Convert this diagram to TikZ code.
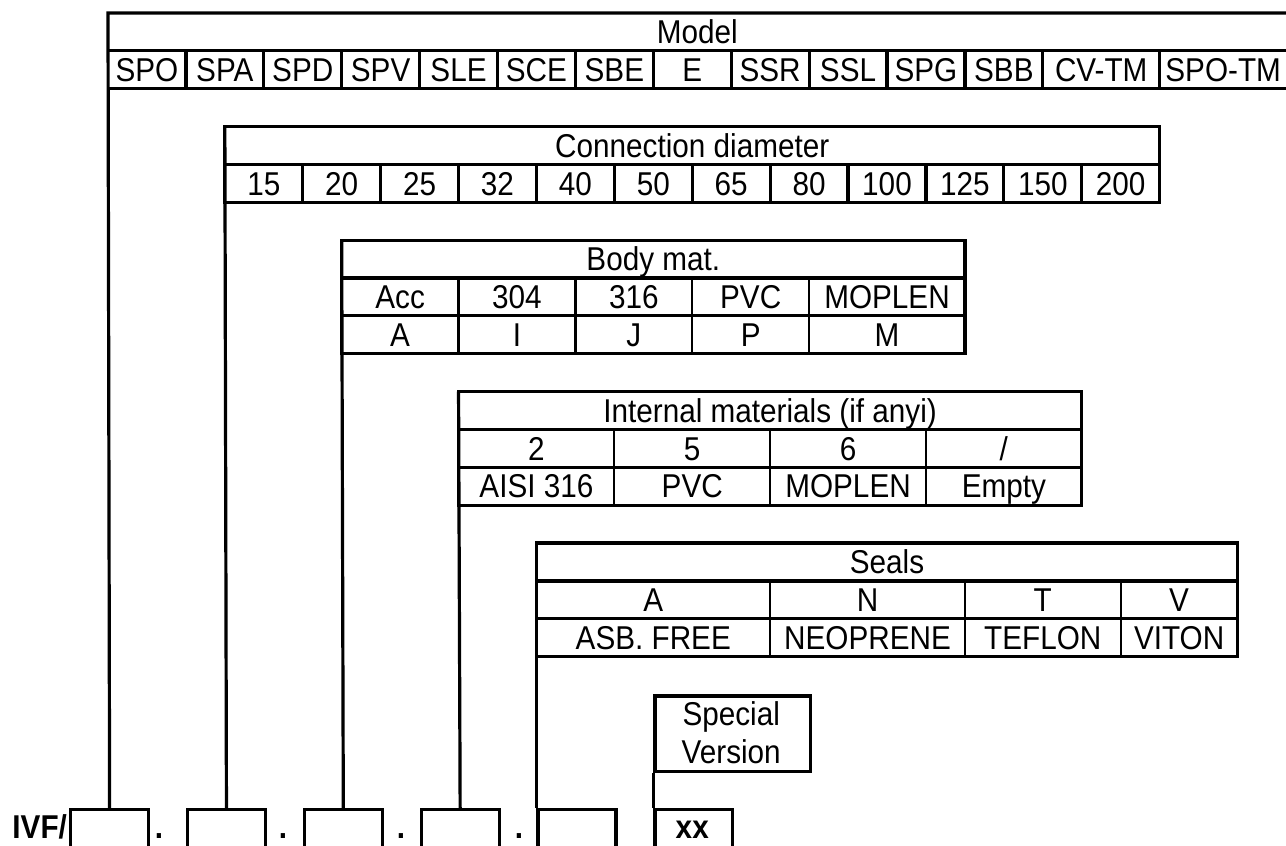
\documentclass[tikz,border=0pt]{standalone}
\usepackage{fontspec}
\setmainfont[FakeStretch=0.90]{Liberation Sans}
\begin{document}
\begin{tikzpicture}[x=38.95pt,y=-37.86pt,
  frame/.style={line width=3.2pt},
  divline/.style={line width=2.2pt},
  lbl/.style={font=\fontsize{33}{39}\selectfont, inner sep=0pt, anchor=base},
  boldlbl/.style={font=\fontsize{33}{39}\selectfont\bfseries, inner sep=0pt, anchor=base},
  codebox/.style={draw, line width=3.2pt, minimum width=77.9pt, minimum height=80pt, inner sep=0pt, anchor=north west},
]
\useasboundingbox (-2.7728,-0.3434) rectangle (30.2439,22.0021);
\clip (-2.7728,-0.3434) rectangle (30.2439,22.0021);

% code boxes
\node[codebox] (b1) at (-1,21) {};
\node[codebox] (b2) at (2,21) {};
\node[codebox] (b3) at (5,21) {};
\node[codebox] (b4) at (8,21) {};
\node[codebox] (b5) at (11,21) {};
\node[codebox] (b6) at (14,21) {};

% table corners
\coordinate (mTL) at (0,0);
\coordinate (cTL) at (3,3);
\coordinate (bTL) at (6,6);
\coordinate (iTL) at (9,10);
\coordinate (sTL) at (11,14);

% Model table
\draw[frame] (31,0) -- (mTL) -- (b1.north);
\draw[frame] (0,1) -- (31,1) (0,2) -- (31,2);
\foreach \x in {2,4,...,24,27} \draw[frame] (\x,1) -- (\x,2);

% Connection diameter table
\draw[frame] (cTL) rectangle (27,5);
\draw[frame] (3,4) -- (27,4);
\foreach \x in {5,7,...,25} \draw[frame] (\x,4) -- (\x,5);
\draw[frame] (cTL) -- (b2.north);

% Body mat. table
\draw[frame] (bTL) rectangle (22,9);
\draw[frame] (6,7) -- (22,7) (6,8) -- (22,8);
\foreach \x in {9,12,15,18} \draw[divline] (\x,7) -- (\x,9);
\draw[frame] (bTL) -- (b3.north);

% Internal materials table
\draw[frame] (iTL) rectangle (25,13);
\draw[frame] (9,11) -- (25,11) (9,12) -- (25,12);
\foreach \x in {13,17,21} \draw[divline] (\x,11) -- (\x,13);
\draw[frame] (iTL) -- (b4.north);

% Seals table
\draw[frame] (sTL) rectangle (29,17);
\draw[frame] (11,15) -- (29,15) (11,16) -- (29,16);
\foreach \x in {17,22,26} \draw[divline] (\x,15) -- (\x,17);
\draw[frame] (sTL) -- (b5.north west);

% Special version
\node[draw, line width=3.2pt, inner sep=0pt, minimum width=155.8pt, minimum height=75.72pt, anchor=north west] (sv) at (14,18) {};
\draw[frame] (sv.south west) -- (b6.north west);
\node[lbl] (svt1) at (16,18.81) {Special};
\node[lbl] (svt2) at (16,19.81) {Version};

% Model texts
\node[lbl] (mh) at (15.13,0.81) {Model};
\foreach \t [count=\i] in {SPO,SPA,SPD,SPV,SLE,SCE,SBE,E,SSR,SSL,SPG,SBB}
  \node[lbl] (m\i) at ({2*\i-1},1.81) {\t};
\node[lbl] (m13) at (25.5,1.81) {CV-TM};
\node[lbl] (m14) at (28.63,1.81) {SPO-TM};

% Connection texts
\node[lbl] (ch) at (15,3.81) {Connection diameter};
\foreach \t [count=\i] in {15,20,25,32,40,50,65,80,100,125,150,200}
  \node[lbl] (c\i) at ({2*\i+2},4.81) {\t};

% Body texts
\node[lbl] (bh) at (14,6.81) {Body mat.};
\node[lbl] (ba1) at (7.5,7.81) {Acc};
\node[lbl] (ba2) at (10.5,7.81) {304};
\node[lbl] (ba3) at (13.5,7.81) {316};
\node[lbl] (ba4) at (16.5,7.81) {PVC};
\node[lbl] (ba5) at (20,7.81) {MOPLEN};
\node[lbl] (bb1) at (7.5,8.81) {A};
\node[lbl] (bb2) at (10.5,8.81) {I};
\node[lbl] (bb3) at (13.5,8.81) {J};
\node[lbl] (bb4) at (16.5,8.81) {P};
\node[lbl] (bb5) at (20,8.81) {M};

% Internal texts
\node[lbl] (ih) at (17,10.81) {Internal materials (if anyi)};
\node[lbl] (ia1) at (11,11.81) {2};
\node[lbl] (ia2) at (15,11.81) {5};
\node[lbl] (ia3) at (19,11.81) {6};
\node[lbl] (ia4) at (23,11.81) {/};
\node[lbl] (ib1) at (11,12.81) {AISI 316};
\node[lbl] (ib2) at (15,12.81) {PVC};
\node[lbl] (ib3) at (19,12.81) {MOPLEN};
\node[lbl] (ib4) at (23,12.81) {Empty};

% Seals texts
\node[lbl] (sh) at (20,14.81) {Seals};
\node[lbl] (sa1) at (14,15.81) {A};
\node[lbl] (sa2) at (19.5,15.81) {N};
\node[lbl] (sa3) at (24,15.81) {T};
\node[lbl] (sa4) at (27.5,15.81) {V};
\node[lbl] (sb1) at (14,16.81) {ASB. FREE};
\node[lbl] (sb2) at (19.5,16.81) {NEOPRENE};
\node[lbl] (sb3) at (24,16.81) {TEFLON};
\node[lbl] (sb4) at (27.5,16.81) {VITON};

% code line
\node[boldlbl, anchor=base east] (ivf) at (-1.05,21.81) {IVF/};
\node[boldlbl] (d1) at (1.31,21.81) {.};
\node[boldlbl] (d2) at (4.49,21.81) {.};
\node[boldlbl] (d3) at (7.52,21.81) {.};
\node[boldlbl] (d4) at (10.55,21.81) {.};
\node[boldlbl] (xx) at (15,21.81) {xx};
\end{tikzpicture}
\end{document}
